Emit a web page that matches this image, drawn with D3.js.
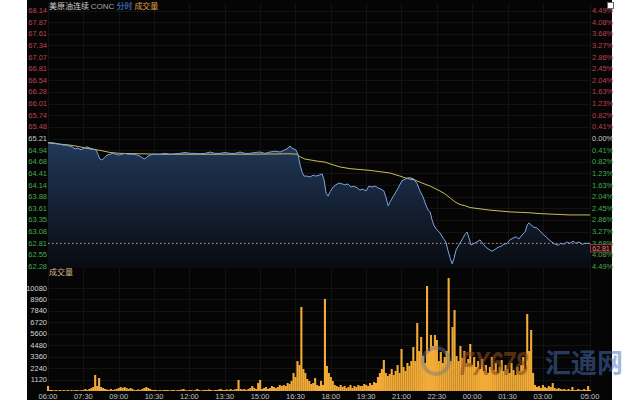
<!DOCTYPE html>
<html><head><meta charset="utf-8">
<script src="https://cdn.jsdelivr.net/npm/d3@7"></script>
<style>body{margin:0;background:#fff;} svg{display:block;}</style>
</head><body><svg id="c" width="640" height="400"></svg>
<script>
// ---------- DATA ----------
const basePrice = 65.21;
const lastPrice = 62.81;
const priceTicks = [68.14,67.87,67.61,67.34,67.07,66.81,66.54,66.28,66.01,65.74,65.48,65.21,64.94,64.68,64.41,64.14,63.88,63.61,63.35,63.08,62.81,62.55,62.28];
const pctLabels = ["4.49%","4.08%","3.68%","3.27%","2.86%","2.45%","2.04%","1.63%","1.23%","0.82%","0.41%","0.00%","0.41%","0.82%","1.23%","1.63%","2.04%","2.45%","2.86%","3.27%","3.68%","4.08%","4.49%"];
const volTicks = [10080,8960,7840,6720,5600,4480,3360,2240,1120];
const timeTickMinutes = [0,90,180,270,360,450,540,630,720,810,900,990,1080,1170,1260,1380];
const timeTickLabels = ["06:00","07:30","09:00","10:30","12:00","13:30","15:00","16:30","18:00","19:30","21:00","22:30","00:00","01:30","03:00","05:00"];

// price line (minutes after 06:00, price)
const priceMinutes = [0,5,13,20,31,38,46,53,61,69,76,84,92,99,107,115,122,127,132,137,143,150,158,165,173,181,188,196,204,211,219,227,234,242,247,252,260,267,275,285,298,311,323,336,349,362,374,387,400,413,425,438,451,463,476,489,502,514,527,540,552,565,578,591,603,611,616,621,626,631,637,642,647,652,659,667,675,682,690,698,703,708,713,718,726,733,741,749,756,764,771,779,787,794,802,810,817,825,833,840,848,855,861,866,871,878,886,894,901,909,917,924,932,940,947,955,962,968,973,978,983,990,998,1006,1013,1018,1024,1029,1034,1039,1046,1054,1062,1067,1072,1077,1085,1092,1100,1108,1115,1123,1130,1138,1146,1153,1161,1169,1176,1184,1192,1199,1207,1215,1220,1225,1230,1237,1245,1253,1260,1268,1276,1283,1291,1299,1306,1314,1321,1329,1337,1344,1352,1360,1367,1375,1380];
const priceValues = [65.11,65.12,65.11,65.10,65.08,65.06,65.06,65.04,65.02,64.97,64.99,64.95,64.99,65.02,64.99,64.97,64.95,64.85,64.74,64.72,64.76,64.83,64.85,64.87,64.85,64.83,64.85,64.87,64.85,64.85,64.85,64.83,64.81,64.76,64.74,64.79,64.83,64.85,64.85,64.85,64.87,64.85,64.86,64.87,64.89,64.87,64.87,64.86,64.87,64.90,64.87,64.87,64.89,64.87,64.87,64.90,64.87,64.87,64.89,64.90,64.87,64.90,64.92,64.90,64.95,64.99,65.04,64.99,64.97,64.95,64.83,64.60,64.44,64.35,64.35,64.33,64.37,64.35,64.37,64.40,64.26,63.96,63.89,63.99,64.10,64.15,64.19,64.17,64.15,64.17,64.10,64.12,64.08,64.03,64.05,64.01,64.12,64.10,64.12,64.08,64.05,64.01,63.85,63.67,63.76,63.87,63.99,64.12,64.24,64.28,64.31,64.31,64.28,64.17,64.01,63.87,63.69,63.57,63.53,63.34,63.21,63.12,63.05,62.93,62.84,62.66,62.47,62.34,62.47,62.66,62.77,62.89,63.02,63.07,62.93,62.77,62.81,62.84,62.89,62.79,62.72,62.67,62.63,62.67,62.72,62.74,62.79,62.81,62.89,62.93,62.96,62.91,63.00,63.07,63.23,63.28,63.23,63.18,63.16,63.09,63.02,62.96,62.89,62.84,62.79,62.77,62.81,62.79,62.84,62.81,62.86,62.81,62.84,62.79,62.81,62.81,62.81];

// average price line
const avgMinutes = [0,31,56,81,107,132,158,183,234,285,387,514,616,634,642,654,667,687,705,718,743,769,794,820,845,871,896,909,922,934,947,973,998,1011,1024,1036,1049,1062,1074,1100,1125,1151,1176,1202,1227,1253,1278,1304,1329,1355,1380];
const avgValues = [65.11,65.08,65.06,65.02,64.97,64.94,64.89,64.87,64.86,64.85,64.85,64.85,64.86,64.85,64.79,64.74,64.72,64.69,64.67,64.63,64.56,64.52,64.50,64.48,64.45,64.42,64.35,64.31,64.28,64.26,64.21,64.12,64.01,63.94,63.85,63.76,63.70,63.67,63.63,63.60,63.57,63.55,63.53,63.52,63.51,63.49,63.48,63.47,63.46,63.46,63.46];

// volume, one value per 5-minute bucket starting 06:00
const volValues = [
490,100,100,50,100,50,100,50,100,50,
100,50,100,50,100,100,50,100,100,200,
100,200,290,390,1570,490,1270,390,290,200,
150,100,200,100,150,200,290,390,290,390,
290,200,290,200,100,100,150,100,200,290,
390,290,200,100,100,100,50,100,50,100,
100,100,50,100,100,50,100,100,150,200,
100,50,100,100,50,100,200,100,50,100,
100,100,150,100,50,100,100,150,200,100,
100,150,100,200,100,150,200,1080,200,150,
200,100,200,290,490,290,200,780,1080,200,
290,390,200,290,490,390,290,390,590,490,
590,490,780,690,980,1760,1370,2930,2540,8220,
2150,1760,1170,980,690,780,1270,590,490,980,
590,9000,2450,1760,1370,980,590,490,390,590,
390,490,290,390,590,290,490,390,590,490,
490,690,590,490,780,590,880,780,1370,1760,
2150,3030,1760,1470,1660,2150,1560,1960,2540,1760,
4110,2350,1960,2740,2450,2930,4300,2930,6650,3910,
5280,3420,2740,10270,3910,5480,4400,5480,4990,2930,
3810,2740,3330,3910,11050,2930,6260,7920,3420,2930,
4400,3230,3910,2740,3130,4600,2540,3330,2350,2930,
2150,3130,1960,2540,1760,2350,3330,2050,2740,1760,
2350,3030,1960,2540,2150,1760,2740,2050,1560,2350,
1960,2540,3330,2150,7530,3910,5970,1760,590,390,
490,290,590,390,290,490,390,780,290,200,
290,200,150,200,100,200,100,390,100,100,
200,100,100,200,100,490,100];
const volStep = 5;

// ---------- DRAW ----------
const svg = d3.select("#c");
const font = "'Liberation Sans', Arial, 'Noto Sans CJK SC', sans-serif";
const cjk = "'Noto Sans CJK SC', 'Liberation Sans', sans-serif";

svg.append("rect").attr("x",27).attr("y",0).attr("width",585).attr("height",400).attr("fill","#050505");

const x = d3.scaleLinear().domain([0,1380]).range([48,590]);
const y = d3.scaleLinear().domain([62.28,68.14]).range([266.5,10.5]);
const yv = d3.scaleLinear().domain([0,11200]).range([391,276.5]);

// faint grid
const grid = svg.append("g").attr("stroke","#131313").attr("stroke-width",1);
timeTickMinutes.forEach(m=>{ grid.append("line").attr("x1",Math.round(x(m))+0.5).attr("x2",Math.round(x(m))+0.5).attr("y1",3).attr("y2",391); });
priceTicks.forEach(p=>{ grid.append("line").attr("x1",48).attr("x2",590).attr("y1",Math.round(y(p))+0.5).attr("y2",Math.round(y(p))+0.5); });
volTicks.forEach(v=>{ grid.append("line").attr("x1",48).attr("x2",590).attr("y1",Math.round(yv(v))+0.5).attr("y2",Math.round(yv(v))+0.5); });

// gradient
const defs = svg.append("defs");
const lg = defs.append("linearGradient").attr("id","ag").attr("gradientUnits","userSpaceOnUse")
  .attr("x1",0).attr("x2",0).attr("y1",140).attr("y2",268);
lg.append("stop").attr("offset",0).attr("stop-color","#21395a");
lg.append("stop").attr("offset",1).attr("stop-color","#080b10");

const pts = priceMinutes.map((m,i)=>[m,priceValues[i]]);
const area = d3.area().x(d=>x(d[0])).y0(268).y1(d=>y(d[1]));
svg.append("path").datum(pts).attr("d",area).attr("fill","url(#ag)");

// last price dotted line
svg.append("line").attr("x1",48).attr("x2",590).attr("y1",y(lastPrice)).attr("y2",y(lastPrice))
  .attr("stroke","#c09a7a").attr("stroke-width",1).attr("stroke-dasharray","1.5,2.5");

// avg line
const line = d3.line().x(d=>x(d[0])).y(d=>y(d[1]));
svg.append("path").datum(avgMinutes.map((m,i)=>[m,avgValues[i]])).attr("d",line)
  .attr("fill","none").attr("stroke","#c9bd5a").attr("stroke-width",1);
// price line
svg.append("path").datum(pts).attr("d",line)
  .attr("fill","none").attr("stroke","#7ea3e0").attr("stroke-width",1);

// volume bars
svg.append("g").selectAll("rect").data(volValues).join("rect")
  .attr("x",(d,i)=>x(i*volStep)-1).attr("width",2.1)
  .attr("y",d=>yv(d)).attr("height",d=>yv(0)-yv(d))
  .attr("fill","#f2ab36");

// left price labels
const colorFor = p => p>basePrice+0.001 ? "#c0404e" : (p<basePrice-0.001 ? "#3fae4c" : "#c8c8c8");
svg.append("g").selectAll("text").data(priceTicks).join("text")
  .attr("x",47).attr("y",d=>y(d)).attr("dy","0.35em").attr("text-anchor","end")
  .attr("font-family",font).attr("font-size",7.5).attr("fill",colorFor).text(d=>d.toFixed(2));
// right pct labels
svg.append("g").selectAll("text").data(priceTicks).join("text")
  .attr("x",592).attr("y",d=>y(d)).attr("dy","0.35em")
  .attr("font-family",font).attr("font-size",7.5).attr("fill",colorFor).text((d,i)=>pctLabels[i]);

// volume labels
svg.append("g").selectAll("text").data(volTicks).join("text")
  .attr("x",47).attr("y",d=>yv(d)).attr("dy","0.35em").attr("text-anchor","end")
  .attr("font-family",font).attr("font-size",7.5).attr("fill","#d4d4d4").text(d=>d);
svg.append("text").attr("x",49).attr("y",272).attr("dy","0.35em").attr("font-family",cjk)
  .attr("font-size",8).attr("fill","#d9b78e").text("成交量");

// time labels
svg.append("g").selectAll("text").data(timeTickMinutes).join("text")
  .attr("x",d=>x(d)).attr("y",396.5).attr("dy","0.35em").attr("text-anchor","middle")
  .attr("font-family",font).attr("font-size",7.5).attr("fill","#c4c4c4").text((d,i)=>timeTickLabels[i]);

// title
const t = svg.append("text").attr("x",49).attr("y",6).attr("dy","0.35em").attr("font-family",cjk).attr("font-size",8);
t.append("tspan").attr("fill","#d0d0d0").text("美原油连续 ");
t.append("tspan").attr("fill","#a8a8a8").attr("font-family",font).text("CONC ");
t.append("tspan").attr("fill","#4d8be0").text("分时 ");
t.append("tspan").attr("fill","#e0a04a").text("成交量");

// last price box (below the dotted line, right edge)
svg.append("rect").attr("x",590.5).attr("y",244.5).attr("width",21).attr("height",7.5)
  .attr("fill","#1a0c0c").attr("stroke","#b04040").attr("stroke-width",0.8);
svg.append("text").attr("x",601).attr("y",248.3).attr("dy","0.35em").attr("text-anchor","middle")
  .attr("font-family",font).attr("font-size",7).attr("fill","#e08080").text(lastPrice.toFixed(2));

// small icon top right
svg.append("rect").attr("x",607.5).attr("y",2.5).attr("width",6).attr("height",6).attr("fill","#fff").attr("stroke","#666");

// watermark
svg.append("circle").attr("cx",436).attr("cy",361).attr("r",13).attr("fill","none").attr("stroke","#6a7890").attr("stroke-width",4).attr("opacity",0.45);
svg.append("text").attr("x",460).attr("y",375).attr("font-family",font).attr("font-weight","bold").attr("font-style","italic")
  .attr("font-size",34).attr("textLength",68).attr("lengthAdjust","spacingAndGlyphs")
  .attr("fill","#8a4a1c").attr("opacity",0.6).text("FX678");
svg.append("text").attr("x",545).attr("y",373).attr("font-family",cjk).attr("font-weight","bold")
  .attr("font-size",27).attr("textLength",78).attr("lengthAdjust","spacingAndGlyphs")
  .attr("fill","#4a70b8").attr("opacity",0.5).text("汇通网");
</script></body></html>
